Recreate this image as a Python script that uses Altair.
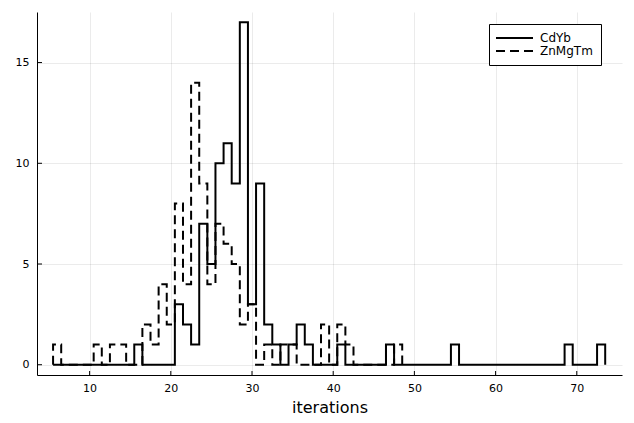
import altair as alt
import pandas as pd

# ---- data (bin centres are integers, width 1) ----
series_names = ["CdYb", "ZnMgTm"]
first_bin = 6

# counts for bins 6 .. 73
cdyb_counts = [0, 0, 0, 0, 0, 0, 0, 0, 0, 0,          # 6-15
               1,                                      # 16
               0, 0, 0, 0,                             # 17-20
               3, 2, 1, 7, 5, 10, 11, 9, 17, 3, 9, 2, 1, 0, 1, 2, 1,   # 21-37
               0, 0, 0,                                # 38-40
               1,                                      # 41
               0, 0, 0, 0, 0,                          # 42-46
               1,                                      # 47
               0, 0, 0, 0, 0, 0, 0,                    # 48-54
               1,                                      # 55
               0, 0, 0, 0, 0, 0, 0, 0, 0, 0, 0, 0, 0,  # 56-68
               1,                                      # 69
               0, 0, 0,                                # 70-72
               1]                                      # 73

# counts for bins 6 .. 48
znmgtm_counts = [1, 0, 0, 0, 0,                        # 6-10
                 1, 0, 1, 1, 0, 0,                     # 11-16
                 2, 1, 4, 2, 8, 4, 14, 9, 4, 7, 6, 5, 2, 3,   # 17-30
                 0, 1, 0, 1, 1, 0, 0, 0,               # 31-38
                 2, 0, 2, 1,                           # 39-42
                 0, 0, 0, 0, 0,                        # 43-47
                 1]                                    # 48

x_ticks = [10, 20, 30, 40, 50, 60, 70]
y_ticks = [0, 5, 10, 15]

# ---- build step outlines ----
rows = []
for name, counts in zip(series_names, [cdyb_counts, znmgtm_counts]):
    edges = [first_bin - 0.5 + k for k in range(len(counts) + 1)]
    pts = [(edges[0], 0)] + [(edges[k], c) for k, c in enumerate(counts)] \
        + [(edges[-1], counts[-1]), (edges[-1], 0)]
    for i, (xv, yv) in enumerate(pts):
        rows.append({"series": name, "x": xv, "y": yv, "i": i})
df = pd.DataFrame(rows)

W, H = 585, 363
FONT = "DejaVu Sans"
xscale = alt.Scale(domain=[3.52, 75.57], nice=False, zero=False)
yscale = alt.Scale(domain=[-0.51, 17.51], nice=False, zero=False)

lines = alt.Chart(df).mark_line(
    interpolate="step-after", color="black", strokeWidth=2
).encode(
    x=alt.X("x:Q", scale=xscale, title="iterations",
            axis=alt.Axis(values=x_ticks, format="d")),
    y=alt.Y("y:Q", scale=yscale, title=None,
            axis=alt.Axis(values=y_ticks, format="d")),
    strokeDash=alt.StrokeDash(
        "series:N",
        scale=alt.Scale(domain=series_names, range=[[1, 0], [9, 5]]),
        legend=alt.Legend(
            title=None, orient="none", legendX=452, legendY=12,
            strokeColor="black", fillColor="white", padding=8,
            symbolType="M-3.7,0H3.7", symbolSize=100, symbolStrokeWidth=2,
            symbolStrokeColor="black", symbolOffset=11.5,
            labelFont=FONT, labelFontSize=12,
            labelColor="black", labelOffset=19.5, rowPadding=1,
        ),
    ),
    order="i:Q",
)

xt = alt.Chart(pd.DataFrame({"t": x_ticks})).mark_rule(
    color="black", strokeWidth=1
).encode(
    x=alt.X("t:Q", scale=xscale, title="iterations"),
    y=alt.value(H), y2=alt.value(H - 4),
)
yt = alt.Chart(pd.DataFrame({"t": y_ticks})).mark_rule(
    color="black", strokeWidth=1
).encode(
    y=alt.Y("t:Q", scale=yscale, title=None),
    x=alt.value(0), x2=alt.value(5),
)

chart = alt.layer(xt, yt, lines).properties(
    width=W, height=H,
    autosize=alt.AutoSizeParams(type="none"),
    padding={"left": 29, "top": 4, "right": 4, "bottom": 40},
).configure_view(stroke=None).configure_axis(
    domainColor="black", domainWidth=1, ticks=False,
    grid=True, gridColor="black", gridOpacity=0.08, gridWidth=1,
    labelFont=FONT, labelFontSize=11, labelColor="black",
    titleFont=FONT, titleFontSize=16, titleFontWeight="normal",
    titleColor="black",
).configure_axisX(labelPadding=7, titlePadding=6).configure_axisY(
    labelPadding=8
)

chart.save("out.html", embed_options={"renderer": "svg", "actions": False})
